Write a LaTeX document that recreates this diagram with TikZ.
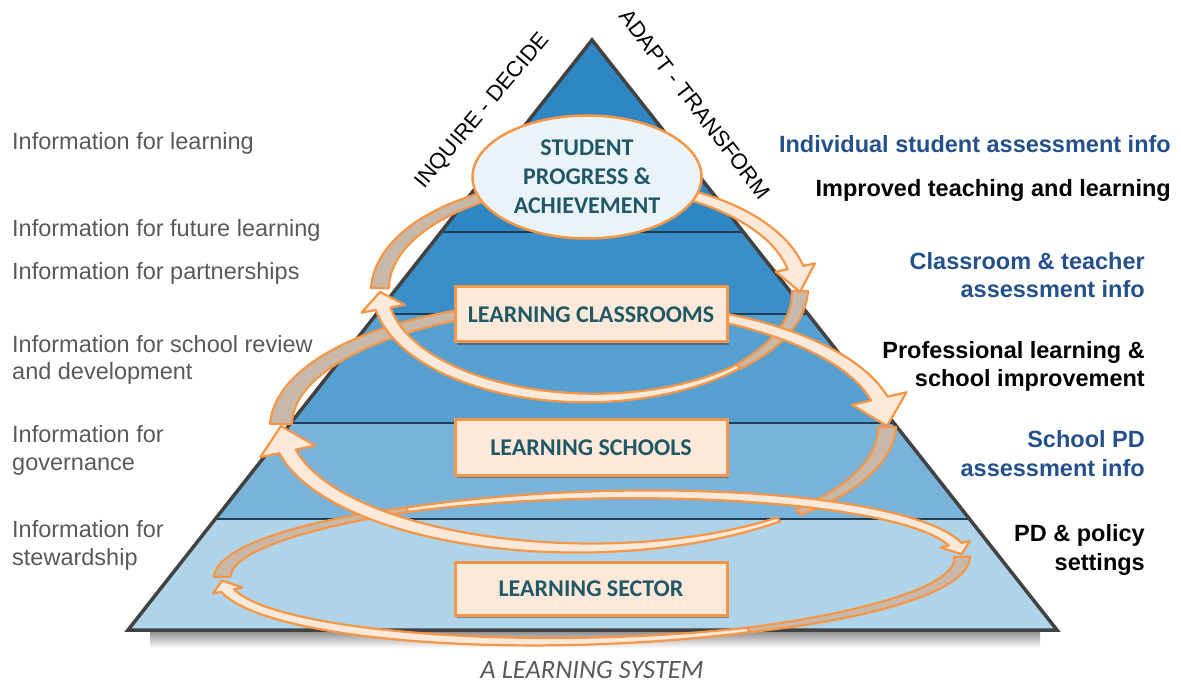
\documentclass[tikz,border=0pt]{standalone}
\usepackage{fontspec}
\setmainfont{Liberation Sans}
\newfontfamily\calfont{Carlito}
\usetikzlibrary{shapes.geometric,shadows}
\definecolor{orng}{HTML}{F79646}
\definecolor{peach}{HTML}{FDE9D9}
\definecolor{backgray}{HTML}{C8B8A9}
\definecolor{tealtxt}{HTML}{215868}
\definecolor{bluetxt}{HTML}{24508C}
\definecolor{graytxt}{HTML}{595959}
\definecolor{bandA}{HTML}{2E86C2}
\definecolor{bandB}{HTML}{3B8FC8}
\definecolor{bandC}{HTML}{55A0D0}
\definecolor{bandD}{HTML}{7AB3DA}
\definecolor{bandE}{HTML}{AFD3E8}
\definecolor{ellfill}{HTML}{EAF4F8}
\definecolor{outlinec}{HTML}{424242}
\definecolor{sepline}{HTML}{1F3F58}

\newcommand\setloop[5]{\def\Lcx{#1}\def\Lcy{#2}\def\Lrx{#3}\def\Lry{#4}\def\Lk{#5}}
\pgfmathdeclarefunction{lpx}{2}{\pgfmathparse{\Lcx+(\Lrx+(#2))*cos(#1)}}
\pgfmathdeclarefunction{lpy}{2}{\pgfmathparse{\Lcy+(\Lry+(#2))*sin(#1)+\Lk*(\Lrx+(#2))*cos(#1)}}

% ribbon segment: t1 t2 w1 w2 style
\newcommand\rbband[5]{%
 \filldraw[#5] plot[variable=\q,domain=#1:#2,samples=40,smooth]
   ({lpx(\q,0.5*(#3+(#4-(#3))*(\q-(#1))/(#2-(#1))))},{lpy(\q,0.5*(#3+(#4-(#3))*(\q-(#1))/(#2-(#1))))})
   -- plot[variable=\q,domain=#2:#1,samples=40,smooth]
   ({lpx(\q,-0.5*(#3+(#4-(#3))*(\q-(#1))/(#2-(#1))))},{lpy(\q,-0.5*(#3+(#4-(#3))*(\q-(#1))/(#2-(#1))))})
   -- cycle;}
% ribbon arrow: t1 tbase ttip w1 w2 halfhead style
\newcommand\rbarrow[7]{%
 \filldraw[#7] plot[variable=\q,domain=#1:#2,samples=40,smooth]
   ({lpx(\q,0.5*(#4+(#5-(#4))*(\q-(#1))/(#2-(#1))))},{lpy(\q,0.5*(#4+(#5-(#4))*(\q-(#1))/(#2-(#1))))})
   -- ({lpx(#2,#6)},{lpy(#2,#6)}) -- ({lpx(#3,0)},{lpy(#3,0)}) -- ({lpx(#2,-#6)},{lpy(#2,-#6)})
   -- plot[variable=\q,domain=#2:#1,samples=40,smooth]
   ({lpx(\q,-0.5*(#4+(#5-(#4))*(\q-(#1))/(#2-(#1))))},{lpy(\q,-0.5*(#4+(#5-(#4))*(\q-(#1))/(#2-(#1))))})
   -- cycle;}

\begin{document}
\begin{tikzpicture}[x=1pt,y=-1pt,
  rbfront/.style={fill=peach, draw=orng, line width=2.2pt, line join=round},
  rbback/.style={fill=backgray, draw=orng, line width=2.2pt, line join=round},
  lvlbox/.style={draw=orng, line width=3pt, fill=peach, minimum width=272pt, minimum height=55pt,
     inner sep=0pt, font=\calfont\bfseries\fontsize{24}{29}\selectfont, text=tealtxt,
     drop shadow={shadow xshift=1.5pt, shadow yshift=-3pt, opacity=0.45, fill=black!80}},
  leftlbl/.style={anchor=base west, align=left, text=graytxt, font=\fontsize{23.5}{27.5}\selectfont, inner sep=0pt},
  rightblue/.style={anchor=base east, align=right, text=bluetxt, font=\bfseries\fontsize{23.5}{28.5}\selectfont, inner sep=0pt},
  rightblack/.style={rightblue, text=black},
  diag/.style={font=\fontsize{22}{26}\selectfont, inner sep=0pt}]
\useasboundingbox (0,0) rectangle (1181,684);

% base shadow
\shade[top color=black!45, bottom color=white] (150,631) rectangle (1040,648);

% pyramid bands
\begin{scope}
\clip (592,40) -- (1057,630) -- (128,630) -- cycle;
\fill[bandA] (100,30) rectangle (1100,232);
\fill[bandB] (100,232) rectangle (1100,314);
\fill[bandC] (100,314) rectangle (1100,423);
\fill[bandD] (100,423) rectangle (1100,519);
\fill[bandE] (100,519) rectangle (1100,631);
\draw[sepline, line width=1.2pt] (100,232) -- (1100,232) (100,314) -- (1100,314)
   (100,423) -- (1100,423) (100,519) -- (1100,519);
\end{scope}
\draw[outlinec, line width=3.5pt, line join=miter] (592,40) -- (1057,630) -- (128,630) -- cycle;

% ---- back (grey) parts of the loops
\setloop{592}{568}{370}{73}{-0.027}
\rbband{-1}{65}{16}{5}{rbback}
\rbband{181}{240}{17}{5}{rbback}
\setloop{584}{426}{303}{122}{0}
\rbband{0.5}{45}{18}{7}{rbback}
\rbband{181}{250}{22}{9}{rbback}
\setloop{590}{290}{210}{108}{0}
\rbband{0.5}{45}{16}{6}{rbback}
\rbband{181}{250}{18}{8}{rbback}

% ---- front (peach) arrows
\setloop{592}{568}{370}{73}{-0.027}
\rbarrow{240}{349}{357}{5}{13}{15}{rbfront}
\rbarrow{65}{170}{178}{5}{13}{15}{rbfront}
\setloop{584}{426}{303}{122}{0}
\rbarrow{-72}{-13}{0}{8}{17}{28}{rbfront}
\rbarrow{50}{168}{180}{5}{17}{28}{rbfront}
\setloop{590}{290}{210}{108}{0}
\rbarrow{-78}{-12}{1}{8}{16}{20}{rbfront}
\rbarrow{45}{170}{179}{5}{15}{22}{rbfront}

% ---- central nodes
\node[ellipse, draw=orng, line width=2.5pt, fill=ellfill, minimum width=229pt, minimum height=123pt,
      inner sep=0pt, align=center, text=tealtxt, font=\calfont\bfseries\fontsize{24}{29}\selectfont]
      (spa) at (587,177) {STUDENT\\PROGRESS \&\\ACHIEVEMENT};
\node[lvlbox] (lc) at (591,314.5) {LEARNING CLASSROOMS};
\node[lvlbox] (ls) at (591,447.5) {LEARNING SCHOOLS};
\node[lvlbox, minimum height=53pt] (lsec) at (591,588.5) {LEARNING SECTOR};

% ---- side labels along the pyramid
\node[diag, rotate=50] (inq) at (483,111) {INQUIRE - DECIDE};
\node[diag, rotate=-52.5] (adp) at (695,104) {ADAPT - TRANSFORM};

% ---- left labels (base = baseline of last line)
\node[leftlbl] (l1) at (12,150) {Information for learning};
\node[leftlbl] (l2) at (12,237) {Information for future learning};
\node[leftlbl] (l3) at (12,280) {Information for partnerships};
\node[leftlbl] (l4) at (12,380) {Information for school review\\and development};
\node[leftlbl] (l5) at (12,470) {Information for\\governance};
\node[leftlbl] (l6) at (12,565) {Information for\\stewardship};

% ---- right labels
\node[rightblue] (r1) at (1171,153) {Individual student assessment info};
\node[rightblack] (r2) at (1171,197) {Improved teaching and learning};
\node[rightblue] (r3) at (1145,298) {Classroom \& teacher\\assessment info};
\node[rightblack] (r4) at (1145,387) {Professional learning \&\\school improvement};
\node[rightblue] (r5) at (1145,476) {School PD\\assessment info};
\node[rightblack] (r6) at (1145,570) {PD \& policy\\settings};

% ---- title
\node[anchor=base, text=graytxt, font=\calfont\itshape\fontsize{26.5}{30}\selectfont, inner sep=0pt]
      (sys) at (592,678) {A LEARNING SYSTEM};
\end{tikzpicture}
\end{document}
